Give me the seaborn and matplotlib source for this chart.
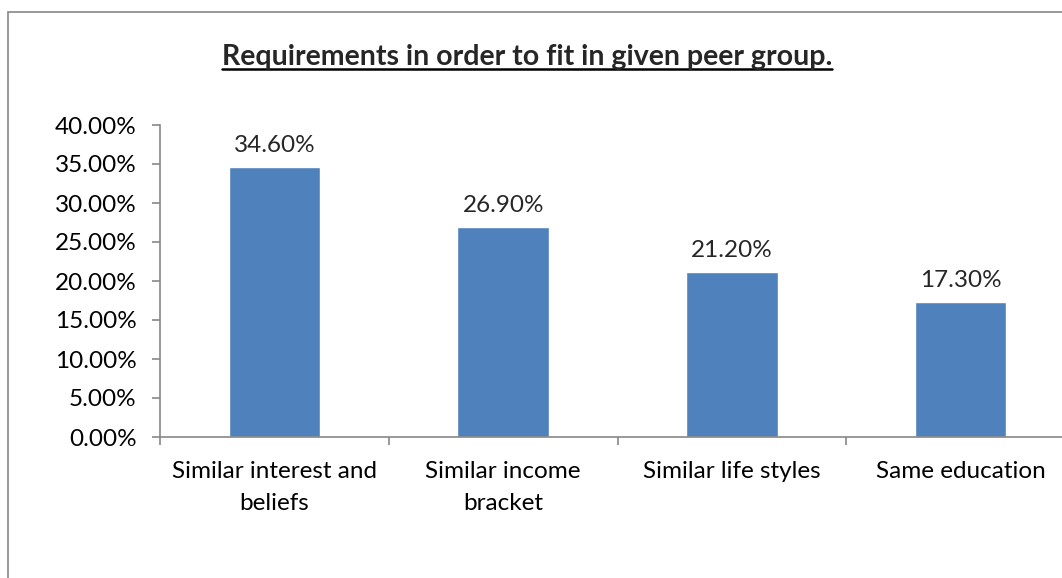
import matplotlib
matplotlib.use("Agg")
import matplotlib.pyplot as plt
import seaborn as sns
import pandas as pd
from matplotlib.patches import Rectangle
from matplotlib.lines import Line2D
from matplotlib.ticker import FuncFormatter, MultipleLocator

categories = ["Similar interest and\nbeliefs", "Similar income\nbracket", "Similar life styles", "Same education"]
values = [34.60, 26.90, 21.20, 17.30]
title = "Requirements in order to fit in given peer group."

sns.set_style("white")
plt.rcParams['font.family'] = ['Lato', 'DejaVu Sans']

W, H = 1062, 578
FS = 17.5
fig = plt.figure(figsize=(W / 100, H / 100), dpi=100)
fig.patch.set_facecolor("white")

# figure border
fig.add_artist(Rectangle((8 / W, -0.05), 1.2, (H - 12) / H + 0.05, transform=fig.transFigure,
                         fill=False, edgecolor="#888888", linewidth=1.2))

ax = fig.add_axes([160 / W, (H - 437) / H, (1075 - 160) / W, (437 - 125) / H])
df = pd.DataFrame({"cat": categories, "val": values})
sns.barplot(data=df, x="cat", y="val", color="#4F81BD", width=0.4, ax=ax, saturation=1)

ax.set_ylim(0, 40)
ax.set_xlim(-0.5, 3.5)
ax.yaxis.set_major_locator(MultipleLocator(5))
ax.yaxis.set_major_formatter(FuncFormatter(lambda v, p: f"{v:.2f}%"))
ax.set_xlabel("")
ax.set_ylabel("")

for s in ["top", "right"]:
    ax.spines[s].set_visible(False)
for s in ["left", "bottom"]:
    ax.spines[s].set_color("#888888")
    ax.spines[s].set_linewidth(1.2)

ax.tick_params(axis="y", direction="out", length=6, color="#888888", width=1.2,
               labelsize=FS, pad=11, labelcolor="black", left=True)
ax.tick_params(axis="x", which="major", length=0, labelsize=FS, pad=17, labelcolor="black")
ax.set_xticks([-0.5, 0.5, 1.5, 2.5, 3.5], minor=True)
ax.tick_params(axis="x", which="minor", direction="out", length=6, color="#888888", width=1.2, bottom=True)
for lbl in ax.get_xticklabels():
    lbl.set_linespacing(1.65)

for c in ax.containers:
    ax.bar_label(c, labels=[f"{v:.2f}%" for v in values], padding=8, fontsize=FS)

t = fig.text(527 / W, 1 - 57 / H, title, ha="center", va="center", fontsize=20.5, fontweight="bold")
fig.canvas.draw()
bb = t.get_window_extent(fig.canvas.get_renderer())
y_line = (bb.y0 + 1) / H
fig.add_artist(Line2D([bb.x0 / W, bb.x1 / W], [y_line, y_line], transform=fig.transFigure,
                      color="black", linewidth=1.8))

fig.savefig("out.png", dpi=100)
